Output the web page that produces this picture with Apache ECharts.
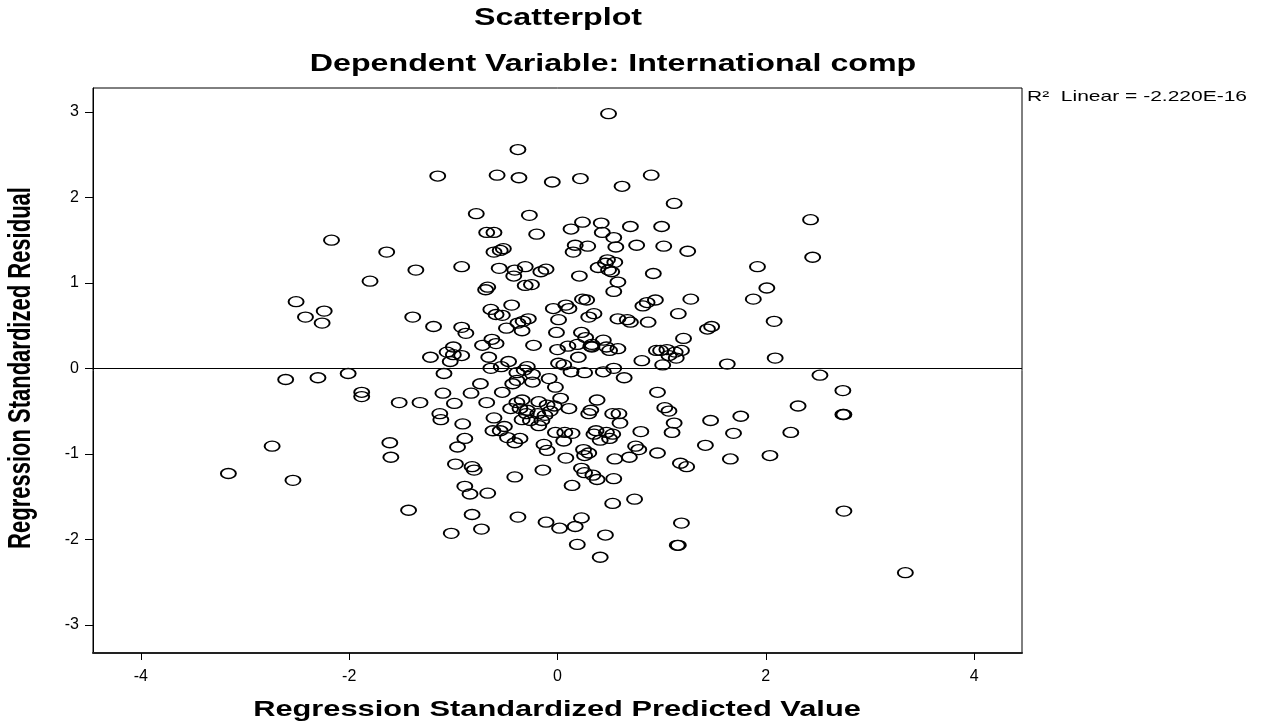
<!DOCTYPE html>
<html>
<head>
<meta charset="utf-8">
<script src="https://cdn.jsdelivr.net/npm/echarts@6/dist/echarts.min.js"></script>
<style>html,body{margin:0;padding:0;background:#fff;}#chart{width:1263px;height:728px;}</style>
</head>
<body>
<div id="chart"></div>
<script>
const titleText = 'Scatterplot';
const subtitleText = 'Dependent Variable: International comp';
const xAxisName = 'Regression Standardized Predicted Value';
const yAxisName = 'Regression Standardized Residual';
const fitLabel = 'R\u00B2  Linear = -2.220E-16';
const xTicks = [-4, -2, 0, 2, 4];
const yTicks = [-3, -2, -1, 0, 1, 2, 3];

const predicted = [
-3.16,-2.74,-2.54,-2.61,-2.51,-2.42,-2.24,-2.26,-2.30,-2.17,
-2.01,-1.88,-1.88,-1.80,-1.64,-1.61,-1.60,-1.52,-1.43,-1.39,
-1.36,-1.32,-1.22,-1.19,-1.15,-1.13,-1.12,-1.10,-1.09,-1.06,
-1.03,-1.02,-1.00,-1.00,-0.99,-0.98,-0.96,-0.92,-0.92,-0.92,
-0.91,-0.89,-0.89,-0.88,-0.84,-0.82,-0.80,-0.82,-0.83,-0.78,
-0.74,-0.73,-0.72,-0.68,-0.68,-0.67,-0.69,-0.67,-0.66,-0.64,
-0.63,-0.64,-0.61,-0.61,-0.58,-0.61,-0.62,-0.59,-0.59,-0.56,
-0.55,-0.55,-0.54,-0.53,-0.53,-0.52,-0.51,-0.49,-0.48,-0.47,
-0.45,-0.44,-0.43,-0.42,-0.41,-0.41,-0.39,-0.39,-0.41,-0.39,
-0.38,-0.38,-0.38,-0.37,-0.36,-0.36,-0.34,-0.34,-0.34,-0.33,
-0.32,-0.31,-0.31,-0.30,-0.29,-0.29,-0.28,-0.27,-0.26,-0.25,
-0.24,-0.24,-0.23,-0.20,-0.19,-0.18,-0.18,-0.16,-0.15,-0.14,
-0.13,-0.12,-0.11,-0.11,-0.10,-0.10,-0.08,-0.07,-0.05,-0.04,
-0.03,-0.02,-0.02,-0.01,0.00,0.01,0.01,0.02,0.03,0.06,
0.06,0.07,0.08,0.08,0.10,0.11,0.11,0.13,0.13,0.14,
0.14,0.15,0.17,0.17,0.19,0.19,0.20,0.21,0.22,0.23,
0.23,0.23,0.24,0.24,0.25,0.26,0.26,0.26,0.27,0.28,
0.29,0.30,0.30,0.30,0.32,0.32,0.33,0.33,0.34,0.35,
0.35,0.37,0.38,0.38,0.39,0.41,0.41,0.42,0.43,0.44,
0.44,0.46,0.46,0.47,0.47,0.48,0.49,0.49,0.50,0.50,
0.52,0.53,0.53,0.53,0.54,0.54,0.54,0.54,0.55,0.55,
0.56,0.58,0.58,0.58,0.59,0.60,0.62,0.64,0.67,0.69,
0.70,0.70,0.74,0.75,0.76,0.78,0.80,0.81,0.82,0.86,
0.87,0.90,0.92,0.94,0.95,0.96,0.96,0.99,1.00,1.01,
1.02,1.03,1.05,1.07,1.07,1.10,1.12,1.12,1.13,1.14,
1.15,1.16,1.16,1.18,1.19,1.19,1.21,1.24,1.25,1.28,
1.42,1.44,1.47,1.48,1.63,1.66,1.69,1.76,1.88,1.92,
2.01,2.04,2.08,2.09,2.24,2.31,2.43,2.45,2.52,2.74,
2.74,2.75,2.75,3.34
];
const residual = [
-1.23,-0.91,-1.31,-0.13,0.78,0.60,0.67,0.53,-0.11,1.50,
-0.06,-0.28,-0.33,1.02,1.36,-0.87,-1.04,-0.40,-1.66,0.60,
1.15,-0.40,0.13,0.49,2.25,-0.53,-0.60,-0.29,-0.06,0.19,
0.08,-1.93,0.25,0.16,-0.41,-1.12,-0.92,1.19,0.48,0.15,
-0.65,-0.82,-1.38,0.41,-1.47,-1.15,-1.19,-1.71,-0.29,1.81,
-0.18,-1.88,0.27,-0.40,1.59,-1.46,0.92,0.95,0.13,0.00,
0.34,0.69,1.59,1.36,2.26,-0.58,-0.73,0.63,0.29,1.17,
1.38,-0.73,0.02,0.62,-0.28,1.40,-0.68,0.47,-0.81,0.08,
-0.47,0.74,-0.18,1.08,-0.87,1.15,-0.40,-0.05,-1.27,-0.14,
0.53,2.56,-1.74,2.23,-0.47,-0.82,-0.60,-0.37,0.44,0.55,
-0.02,0.97,1.19,-0.53,-0.49,0.02,0.58,1.79,-0.61,0.98,
-0.07,-0.16,0.27,1.57,-0.53,-0.39,-0.67,1.13,-0.61,-1.19,
-0.89,-0.55,1.16,-1.80,-0.96,-0.43,-0.12,-0.50,2.18,0.70,
-0.44,-0.22,-0.75,0.42,0.22,0.06,0.57,-1.87,-0.35,0.04,
-0.85,-0.75,0.74,-1.05,0.26,-0.47,0.70,-0.04,1.63,-1.37,
-0.76,1.36,1.44,-1.85,0.28,-2.06,0.13,1.08,2.22,0.42,
-1.17,-1.75,1.71,0.81,-0.95,-1.22,-0.05,-1.02,0.36,0.80,
1.43,-0.99,-0.53,0.60,-0.49,0.26,0.25,0.28,-1.25,0.64,
-0.77,-0.73,-0.37,-1.30,1.18,-0.84,-2.21,1.70,1.59,0.33,
-0.04,1.23,-1.95,-0.75,0.25,1.27,2.98,1.15,-0.82,0.21,
1.13,-0.77,-0.53,-1.58,0.00,0.90,1.53,-1.29,-1.06,1.24,
1.42,0.58,1.01,0.23,-0.53,-0.64,2.13,-0.11,0.57,-1.04,
1.66,0.54,-1.53,-0.91,1.44,-0.95,-0.74,0.09,0.73,0.77,
0.54,2.26,1.11,0.80,0.21,-0.28,-0.99,0.21,1.66,0.04,
1.43,-0.46,0.22,-0.50,0.15,-0.75,-0.64,1.93,0.19,0.12,
-2.07,-2.07,0.64,-1.11,-1.81,0.21,0.35,-1.15,1.37,0.81,
-0.90,0.46,-0.61,0.49,0.05,-1.06,-0.76,-0.56,0.81,1.19,
0.94,-1.02,0.55,0.12,-0.75,-0.44,1.74,1.30,-0.08,-0.26,
-0.54,-0.54,-1.67,-2.39
];

const points = predicted.map((x, i) => [x, residual[i]]);
const S = 1.4; // horizontal stretch of the original rendering

const chart = echarts.init(document.getElementById('chart'), null, {renderer: 'canvas'});
function txt(text, x, y, font, opts) {
  return Object.assign({
    type: 'text', x: x, y: y, silent: true,
    style: {text: text, x: 0, y: 0, font: font, fill: '#000',
      align: 'center', verticalAlign: 'middle', textAlign: 'center', textVerticalAlign: 'middle'}
  }, opts || {});
}
const option = {
  animation: false,
  backgroundColor: '#fff',
  grid: {left: 93, right: 241, top: 88, bottom: 75, show: true, borderColor: '#000', borderWidth: 1, backgroundColor: 'transparent'},
  xAxis: {
    type: 'value', min: -4.46, max: 4.46,
    axisLine: {show: true, onZero: false, lineStyle: {color: '#222', width: 2}},
    axisTick: {show: true, length: 7, lineStyle: {color: '#000'}, customValues: xTicks},
    axisLabel: {color: '#000', fontSize: 16, fontFamily: 'Liberation Sans', margin: 16, customValues: xTicks},
    splitLine: {show: false}
  },
  yAxis: {
    type: 'value', min: -3.33, max: 3.28,
    axisLine: {show: true, onZero: false, lineStyle: {color: '#000', width: 1}},
    axisTick: {show: true, length: 8, lineStyle: {color: '#000'}, customValues: yTicks},
    axisLabel: {color: '#000', fontSize: 16, fontFamily: 'Liberation Sans', margin: 14, customValues: yTicks},
    splitLine: {show: false}
  },
  graphic: [
    txt(titleText, 558, 19, 'bold 23px "Liberation Sans"', {scaleX: S}),
    txt(subtitleText, 613, 65, 'bold 23px "Liberation Sans"', {scaleX: S}),
    txt(xAxisName, 557, 710, 'bold 22px "Liberation Sans"', {scaleX: S}),
    txt(yAxisName, 22, 368, 'bold 22px "Liberation Sans"', {rotation: Math.PI / 2, scaleY: S}),
    {
      type: 'text', x: 1027, y: 97, scaleX: S, silent: true,
      style: {text: fitLabel, x: 0, y: 0, font: '15px "Liberation Sans"', fill: '#000',
        align: 'left', verticalAlign: 'middle', textAlign: 'left', textVerticalAlign: 'middle'}
    }
  ],
  series: [{
    type: 'scatter',
    data: points,
    symbol: 'path://M1,0A1,1,0,1,1,-1,0A1,1,0,1,1,1,0Z',
    symbolSize: [15, 10],
    itemStyle: {color: 'rgba(0,0,0,0)', borderColor: '#000', borderWidth: 1.6, opacity: 1},
    silent: true,
    markLine: {
      silent: true, symbol: 'none', animation: false,
      label: {show: false},
      lineStyle: {color: '#000', width: 1, type: 'solid'},
      data: [{yAxis: 0}]
    }
  }]
};
chart.setOption(option);
</script>
</body>
</html>
